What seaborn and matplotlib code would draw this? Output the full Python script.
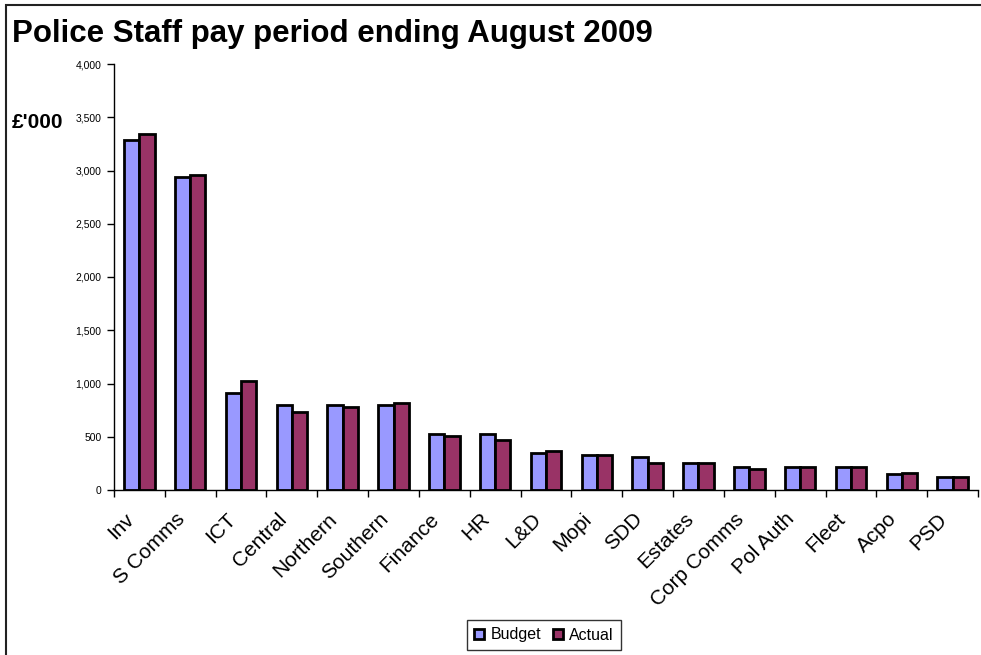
import matplotlib
matplotlib.use("Agg")
import matplotlib.pyplot as plt
from matplotlib.patches import Rectangle
from matplotlib.ticker import FuncFormatter, FixedLocator
from matplotlib.transforms import ScaledTranslation
import seaborn as sns
import pandas as pd
import numpy as np

categories = ["Inv", "S Comms", "ICT", "Central", "Northern", "Southern", "Finance",
              "HR", "L&D", "Mopi", "SDD", "Estates", "Corp Comms", "Pol Auth",
              "Fleet", "Acpo", "PSD"]
budget = [3286, 2936, 914, 801, 801, 801, 529, 529, 344, 326, 310, 254, 219, 219, 219, 147, 122]
actual = [3340, 2958, 1020, 730, 782, 817, 510, 469, 363, 326, 254, 254, 200, 219, 219, 163, 122]
series_names = ["Budget", "Actual"]
y_ticks = [0, 500, 1000, 1500, 2000, 2500, 3000, 3500, 4000]

df = pd.DataFrame({
    "Department": categories * 2,
    "Series": [series_names[0]] * len(categories) + [series_names[1]] * len(categories),
    "Value": budget + actual,
})

sns.set_theme(style="white")
plt.rcParams["font.family"] = ["Liberation Sans", "DejaVu Sans"]
plt.rcParams["text.color"] = "black"
plt.rcParams["xtick.color"] = "black"
plt.rcParams["ytick.color"] = "black"
plt.rcParams["axes.labelcolor"] = "black"

fig = plt.figure(figsize=(9.81, 6.55), dpi=100)
ax = fig.add_axes([114 / 981, 1 - 490 / 655, (978 - 114) / 981, (490 - 64) / 655])

palette = {"Budget": "#9999FF", "Actual": "#993366"}
sns.barplot(data=df, x="Department", y="Value", hue="Series", order=categories,
            hue_order=series_names, palette=palette, width=0.6, dodge=True,
            edgecolor="black", linewidth=2.0, saturation=1, ax=ax, legend=True)

ax.set_xlim(-0.5, len(categories) - 0.5)
ax.set_ylim(0, 4000)
ax.set_yticks(y_ticks)
ax.yaxis.set_major_formatter(FuncFormatter(lambda v, p: f"{int(v):,}"))
ax.tick_params(axis="y", which="major", direction="out", length=5, width=1,
               labelsize=7.5, pad=4, colors="black", left=True)

# category labels at centres, tick marks at the boundaries between groups
ax.set_xticks(range(len(categories)))
ax.set_xticklabels(categories, rotation=45, ha="right", va="top",
                   rotation_mode="anchor", fontsize=15, color="black")
ax.tick_params(axis="x", which="major", length=0, pad=14)
shift = ScaledTranslation(-15 / 100, 0, fig.dpi_scale_trans)
for lbl in ax.get_xticklabels():
    lbl.set_transform(lbl.get_transform() + shift)
ax.xaxis.set_minor_locator(FixedLocator(np.arange(-0.5, len(categories), 1.0)))
ax.tick_params(axis="x", which="minor", direction="out", length=5, width=1,
               color="black", bottom=True)

for side in ["top", "right"]:
    ax.spines[side].set_visible(False)
for side in ["left", "bottom"]:
    ax.spines[side].set_color("black")
    ax.spines[side].set_linewidth(1)

ax.set_xlabel("")
ax.set_ylabel("")

handles, labels = ax.get_legend_handles_labels()
leg = ax.legend(handles, labels, loc="center", bbox_to_anchor=(544 / 981, 1 - 635 / 655),
                bbox_transform=fig.transFigure, ncol=2, frameon=True, fancybox=False,
                edgecolor="black", fontsize=11.5, handlelength=0.65, handleheight=0.65,
                handletextpad=0.4, columnspacing=0.7, borderpad=0.45, borderaxespad=0)
leg.get_frame().set_linewidth(1)
for t in leg.get_texts():
    t.set_color("black")

fig.text(12 / 981, 1 - 34 / 655, "Police Staff pay period ending August 2009",
         fontsize=22.5, fontweight="bold", ha="left", va="center", color="black")
fig.text(12 / 981, 1 - 122 / 655, "£'000", fontsize=15, fontweight="bold",
         ha="left", va="center", color="black")

fig.patches.append(Rectangle((6 / 981, -0.2), 2.0, 0.2 + 650 / 655,
                             transform=fig.transFigure, fill=False,
                             edgecolor="#222222", linewidth=1.5))

fig.savefig("out.png", dpi=100)
